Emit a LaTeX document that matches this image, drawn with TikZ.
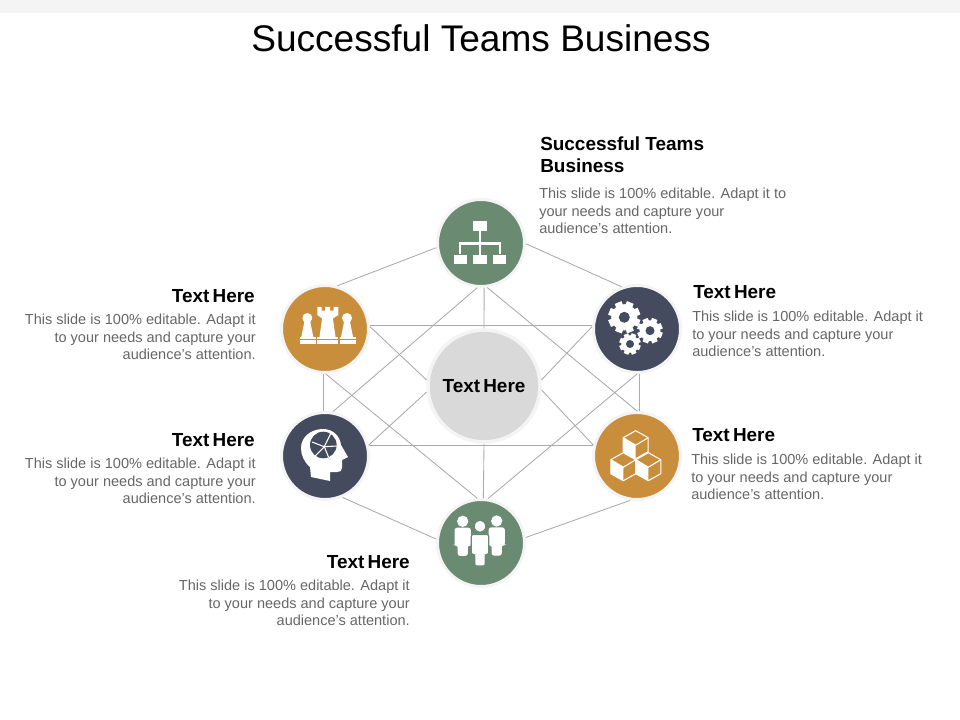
\documentclass[tikz,border=0pt]{standalone}
\usepackage{fontspec}
\setmainfont{Liberation Sans}
\usepackage{tikz}

\definecolor{teamgreen}{HTML}{6A8A72}
\definecolor{teamnavy}{HTML}{454B5E}
\definecolor{teamorange}{HTML}{C98E3C}
\definecolor{ringgray}{HTML}{F4F4F4}
\definecolor{linkgray}{HTML}{ABABAB}
\definecolor{hubgray}{HTML}{D9D9D9}
\definecolor{blurbgray}{HTML}{666666}

\newcommand{\blurb}{This slide is 100\% editable. Adapt it\\to your needs and capture your\\audience's attention.}
\newcommand{\texthere}{Text\hspace{0.17em}Here}

\tikzset{
  teamdot/.style={circle, draw=ringgray, line width=2.25pt, minimum size=65.25pt, inner sep=0pt},
  hubdot/.style={circle, draw=ringgray, line width=2.6pt, fill=hubgray, minimum size=84pt, inner sep=0pt},
  link/.style={draw=linkgray, line width=0.65pt},
  headtext/.style={inner sep=0pt, font=\bfseries\fontsize{14.2}{16.5}\selectfont},
  bodytext/.style={inner sep=0pt, text=blurbgray, font=\fontsize{10.9}{13.1}\selectfont}
}

\begin{document}
\begin{tikzpicture}[x=0.75pt, y=-0.75pt]
    \useasboundingbox (0, 0) rectangle (960, 720);
    \fill[ringgray] (0, 0) rectangle (960, 13);
    \node[inner sep=0pt, font=\fontsize{27.8}{32}\selectfont] (title) at (481, 38){Successful Teams Business};

    \node[teamdot, fill=teamgreen] (top) at (481, 243){};
    \node[teamdot, fill=teamorange] (lu) at (325, 329){};
    \node[teamdot, fill=teamnavy] (ru) at (637, 329){};
    \node[teamdot, fill=teamnavy] (ld) at (325, 456){};
    \node[teamdot, fill=teamorange] (rd) at (637, 456){};
    \node[teamdot, fill=teamgreen] (bot) at (481, 543){};
    \node[hubdot, headtext] (hub) at (484, 386){\texthere};

    % outer ring
    \draw[link] (top.186)--(lu.74);
    \draw[link] (top.-1)--(ru.110);
    \draw[link] (lu.-92)--(ld.92);
    \draw[link] (ru.-87)--(rd.87);
    \draw[link] (ld.-67)--(bot.175);
    \draw[link] (rd.-99)--(bot.7);
    % across
    \draw[link] (lu.4)--(ru.176);
    \draw[link] (ld.14)--(rd.166);
    \draw[link] (top.-86)--(hub.90);
    \draw[link] (hub.-90)--(bot.87);
    \draw[link] (top.-95)--(ld.80);
    \draw[link] (top.-82)--(rd.90);
    \draw[link] (lu.-89)--(bot.95);
    \draw[link] (ru.-90)--(bot.81);
    \draw[link] (lu.3)--(hub.174);
    \draw[link] (ru.177)--(hub.6);
    \draw[link] (ld.14)--(hub.186);
    \draw[link] (rd.166)--(hub.-4);

    % org chart
    \fill[white] (473.3, 221) rectangle (486.7, 230.7);
    \draw[white, line width=1.8pt] (480, 230)--(480, 255);
    \draw[white, line width=1.8pt] (460, 254)--(460, 243.5)--(500, 243.5)--(500, 254);
    \foreach \bx in {454, 473.3, 492.7}
      \fill[white] (\bx, 255) rectangle (\bx+13.4, 263.7);

    % chess pieces
    \fill[white] (317.3, 307)--(321.5, 307)--(321.5, 310.7)--(325.2, 310.7)--(325.2, 307)--(330, 307)--(330, 310.7)--(333.7, 310.7)--(333.7, 307)--(338.3, 307)--(338.3, 315)--(332.9, 318.5)--(335.5, 337)--(319.5, 337)--(322.1, 318.5)--(317.3, 315)--cycle;
    \foreach \px in {307.3, 347} {
      \fill[white] (\px, 318) circle (5);
      \fill[white] (\px-3, 322)--(\px+3, 322)--(\px+6, 337)--(\px-6, 337)--cycle;
    }
    \foreach \bx/\bw in {300/15.7, 316.7/21.6, 340/16} {
      \fill[white] (\bx, 337) rectangle (\bx+\bw, 343.5);
      \draw[teamorange, line width=0.4pt] (\bx, 339.5)--(\bx+\bw, 339.5);
    }

    % gears
    \foreach \gx/\gy/\gr/\gh in {624.3/317.3/16/5.5, 650/330.7/12.7/4.5, 630/344/10.7/4} {
      \fill[white] (\gx, \gy) circle (\gr*0.82);
      \foreach \ga in {0, 45, ..., 315}
        \draw[white, line width=\gr*0.34pt] (\gx, \gy)--++(\ga+22:\gr);
      \fill[teamnavy] (\gx, \gy) circle (\gh);
    }

    % head
    \fill[white] (311, 477)--(310, 467) .. controls (304, 462) and (301, 455) .. (301, 448) .. controls (301, 437) and (311, 429) .. (323, 429) .. controls (333, 429) and (340, 436) .. (341, 445)--(348, 457)--(342, 460)--(342, 468) .. controls (342, 471) and (340, 472) .. (337, 472)--(330, 472)--(330, 481)--cycle;
    \fill[teamnavy] (323.3, 445) circle (13.3);
    \foreach \sx/\sy in {331/433, 336.5/446, 328.5/457, 315/456, 312/442}
      \draw[white, line width=0.8pt] (324.3, 446.7)--(\sx, \sy);

    % cubes
    \foreach \cx/\cy in {635.7/430.7, 623.3/452.7, 648.3/452.7} {
      \begin{scope}[shift={(\cx, \cy)}]
        \fill[white] (-12.5, 7)--(0, 14.5)--(0, 28)--(-12.5, 21)--cycle;
        \draw[white, line width=0.8pt, line join=round] (0, 0)--(12.5, 7)--(12.5, 21)--(0, 28)--(-12.5, 21)--(-12.5, 7)--cycle;
        \draw[white, line width=0.8pt] (-12.5, 7)--(0, 14.5)--(12.5, 7);
      \end{scope}
    }

    % people
    \foreach \px/\py/\ps/\pd in {462.7/521.3/1/white, 496.7/521/1/white, 480/526.3/1.17/teamgreen} {
      \begin{scope}[shift={(\px, \py)}, scale=\ps]
        \fill[white, draw=\pd, line width=0.9pt] (0, 0) circle (5);
        \fill[white, draw=\pd, line width=0.9pt, rounded corners=1.5pt] (-7.5, 7)--(7.5, 7)--(7.5, 24)--(4.5, 24)--(4.5, 34)--(-4.5, 34)--(-4.5, 24)--(-7.5, 24)--cycle;
      \end{scope}
    }

    % labels
    \node[headtext, anchor=west, align=left] (toph) at (540, 155){Successful Teams\\Business};
    \node[bodytext, anchor=west, align=left] (topb) at (539, 211){This slide is 100\% editable. Adapt it to\\your needs and capture your\\audience's attention.};
    \node[headtext, anchor=west] (ruh) at (693, 292){\texthere};
    \node[bodytext, anchor=west, align=left] (rub) at (692, 334){\blurb};
    \node[headtext, anchor=west] (rdh) at (692, 435){\texthere};
    \node[bodytext, anchor=west, align=left] (rdb) at (691, 477){\blurb};
    \node[headtext, anchor=east] (luh) at (255, 296){\texthere};
    \node[bodytext, anchor=east, align=right] (lub) at (256, 337){\blurb};
    \node[headtext, anchor=east] (ldh) at (255, 440){\texthere};
    \node[bodytext, anchor=east, align=right] (ldb) at (256, 481){\blurb};
    \node[headtext, anchor=east] (both) at (410, 562){\texthere};
    \node[bodytext, anchor=east, align=right] (botb) at (410, 603){\blurb};
\end{tikzpicture}
\end{document}
